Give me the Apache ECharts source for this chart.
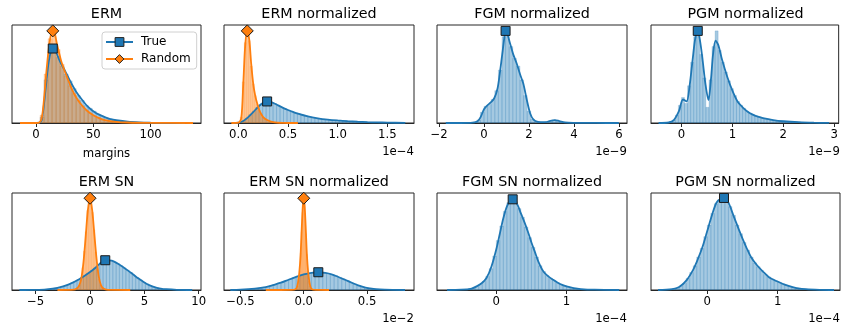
<!DOCTYPE html>
<html><head><meta charset="utf-8">
<script src="https://cdn.jsdelivr.net/npm/echarts@6/dist/echarts.min.js"></script>
<style>html,body{margin:0;padding:0;background:#fff}#c{width:841px;height:331px}</style>
</head><body><div id="c"></div>
<script>
// ---------- DATA ----------
const panelTitles = ['ERM','ERM normalized','FGM normalized','PGM normalized','ERM SN','ERM SN normalized','FGM SN normalized','PGM SN normalized'];
const exponentLabels = ['', '1e\u22124', '1e\u22129', '1e\u22129', '', '1e\u22122', '1e\u22124', '1e\u22124'];
const xAxisName = ['margins','','','','','','',''];
const tickValues = [[0,50,100],[0,0.5,1,1.5],[-2,0,2,4,6],[0,1,2,3],[-5,0,5,10],[-0.5,0,0.5],[0,1],[0,1]];
const tickLabels = [['0','50','100'],['0.0','0.5','1.0','1.5'],['\u22122','0','2','4','6'],['0','1','2','3'],['\u22125','0','5','10'],['\u22120.5','0.0','0.5'],['0','1'],['0','1']];
const xRanges = [[-21,144],[-0.144,1.768],[-2.09,6.36],[-0.598,3.086],[-7.18,10.21],[-0.63,0.871],[-0.844,1.86],[-0.8,1.885]];
const legendNames = ['True','Random'];

// Panel 1: ERM
const ermTrueKde = [[-5,0],[0,0.1],[3,0.3],[5,3],[7,20],[9,42],[11,62],[13,73],[15,76],[17,74],[19,68],[22,60],[25,54],[28,47],[31,40],[35,32],[40,24],[45,17],[50,12],[55,8.5],[60,6],[65,4],[70,2.8],[80,1.3],[90,0.6],[100,0.3],[115,0.1],[130,0]];
const ermTrueBins = [0, 3.5];
const ermTrueHist = [0.3,6,44,74,78,67,58,50,43,35,28,23,18,15,12,9,7,5.5,4.2,3.2,2.5,2,1.4,1.2,0.8,0.7,0.5,0.4,0.3];
const ermTrueMark = [14.6, 76];
const ermRandKde = [[-14,0],[0,0],[3,0.5],[5,5],[7,25],[9,52],[11,75],[13,90],[14.6,94],[16.5,90],[18,82],[20,72],[22,63],[25,53],[28,44],[31,35],[35,26],[40,18],[45,12],[50,8],[55,5],[60,3],[70,1.2],[80,0.5],[100,0.1],[137,0]];
const ermRandBins = [0, 3.5];
const ermRandHist = [0.3,8,50,86,93,75,60,48,38,30,23,17,13,10,7,5.5,4,2.8,2,1.4,1,0.7,0.5,0.3];
const ermRandMark = [14.6, 94];

// Panel 2: ERM normalized (x in 1e-4)
const ermNTrueKde = [[-0.05,0],[0,0.3],[0.05,2],[0.1,6],[0.15,11],[0.2,16.5],[0.25,20.5],[0.3,22],[0.35,20.5],[0.4,18],[0.45,15.5],[0.5,13.3],[0.55,11.3],[0.6,9.5],[0.7,6.7],[0.8,4.8],[0.9,3.5],[1.0,2.6],[1.1,1.9],[1.2,1.3],[1.3,0.9],[1.4,0.6],[1.5,0.4],[1.68,0.1]];
const ermNTrueBins = [0, 0.035];
const ermNTrueHist = [0.5,2.2,5,8.5,12,16,19,21,22,21,19.8,18,16,14.5,13,11.5,10.3,9.2,8.2,7.2,6.4,5.7,5,4.5,4,3.6,3.2,2.9,2.6,2.3,2.1,1.9,1.6,1.45,1.3,1.1,1,0.85,0.75,0.65,0.58,0.5,0.42,0.36,0.3,0.25,0.2,0.15];
const ermNTrueMark = [0.29, 22];
const ermNRandKde = [[-0.07,0],[0,0.3],[0.03,5],[0.05,40],[0.07,80],[0.09,94],[0.11,85],[0.13,60],[0.15,40],[0.17,28],[0.19,20],[0.22,11],[0.25,6],[0.29,3],[0.35,1],[0.45,0.2],[0.6,0]];
const ermNRandBins = [0, 0.02];
const ermNRandHist = [0.5,6,42,82,96,84,58,40,28,19,13,9,6,4.5,3,2.2,1.5,1,0.7,0.5];
const ermNRandMark = [0.09, 94];

// Panel 3: FGM normalized (x in 1e-9)
const fgmNKde = [[-1.7,0],[-0.6,0.2],[-0.3,1.5],[-0.15,6],[0,14],[0.15,18],[0.3,21],[0.45,25],[0.6,35],[0.7,50],[0.8,68],[0.9,86],[0.96,94],[1.05,90],[1.15,82],[1.3,70],[1.45,61],[1.6,50],[1.75,40],[1.9,24],[2.05,10],[2.2,3.5],[2.4,1.2],[2.7,0.8],[3.0,2.5],[3.15,3],[3.35,2],[3.6,0.6],[4,0.2],[5,0.05],[6,0]];
const fgmNBins = [-0.48, 0.16];
const fgmNHist = [0.8,3,11,17,19,24,33,54,88,93,78,66,58,44,28,12,4,1.5,0.8,0.6,1.2,2.4,3.2,2.2,1,0.5];
const fgmNMark = [0.96, 94];

// Panel 4: PGM normalized (x in 1e-9)
const pgmNKde = [[-0.45,0],[-0.25,0.5],[-0.15,3],[-0.05,12],[0.03,24],[0.1,22],[0.16,38],[0.22,65],[0.27,86],[0.32,94],[0.37,82],[0.42,62],[0.47,40],[0.53,23.5],[0.58,45],[0.62,70],[0.67,84],[0.72,80],[0.8,64],[0.9,47],[1.0,33],[1.1,22],[1.2,16],[1.3,11.5],[1.4,8.5],[1.5,6.5],[1.6,5],[1.8,3],[2.0,1.8],[2.3,0.8],[2.6,0.3],[2.9,0.1]];
const pgmNBins = [-0.24, 0.06];
const pgmNHist = [1.5,3,8,18,26,20,38,62,88,94,70,46,16,44,78,94,74,62,52,43,35,28,22,18,15,12,10,8.3,7,6,5.1,4.5,4,3.3,2.8,2.4,2,1.8,1.5,1.3,1.1,0.9,0.75,0.6,0.5,0.4,0.3,0.25,0.2,0.15];
const pgmNMark = [0.32, 94];

// Panel 5: ERM SN
const ermSnTrueKde = [[-6.5,0],[-5,0.2],[-4,0.7],[-3,2.2],[-2,5.5],[-1,11],[0,18.5],[0.5,23],[1,28],[1.4,30.7],[2,30.2],[2.5,27.5],[3,24],[3.5,20],[4,15.7],[4.5,11.5],[5,7.8],[5.5,4.8],[6,2.8],[6.5,1.5],[7,0.8],[8,0.2],[9.4,0]];
const ermSnTrueBins = [-4.5, 0.3];
const ermSnTrueHist = [0.5,0.7,1.0,1.4,1.9,2.6,3.3,4.3,5.7,7.1,8.8,10.7,12.8,15,17.3,20,22.6,25.5,28.2,30.3,30.8,30.2,29,27.2,25,22.8,20.4,18,15.3,12.8,10.4,8.2,6.3,4.6,3.4,2.4,1.6,1.1,0.8,0.6,0.4,0.25,0.15,0.1];
const ermSnTrueMark = [1.4, 30.7];
const ermSnRandKde = [[-3,0],[-1.5,0.3],[-1.2,1.8],[-1.0,4.5],[-0.8,12],[-0.6,29],[-0.4,55],[-0.2,82],[0,94.6],[0.2,82],[0.4,57],[0.6,32],[0.8,14],[1.0,5],[1.2,1.8],[1.5,0.4],[2.0,0.1],[3.7,0]];
const ermSnRandBins = [-1.2, 0.15];
const ermSnRandHist = [2,5,11,23,40,60,82,95,92,80,62,39,22,11,5,2];
const ermSnRandMark = [0, 94.6];

// Panel 6: ERM SN normalized (x in 1e-2)
const ermSnNTrueKde = [[-0.58,0],[-0.5,0.3],[-0.385,1.4],[-0.3,3],[-0.25,4.8],[-0.18,7.5],[-0.12,10.6],[-0.06,13.5],[0,16],[0.06,17.7],[0.115,18.3],[0.17,17.6],[0.22,16.2],[0.27,13.7],[0.326,10.6],[0.38,7.5],[0.43,4.8],[0.48,2.8],[0.537,1.4],[0.6,0.6],[0.7,0.15],[0.8,0]];
const ermSnNTrueBins = [-0.45, 0.03];
const ermSnNTrueHist = [0.8,1.2,1.6,2.1,2.7,3.4,4.5,5.5,6.8,8,9.8,11.3,12.8,14.2,15.4,16.6,17.4,18,18.3,18.1,17.7,17,16,14.6,13,11.2,9.6,7.8,6.2,4.6,3.4,2.5,1.7,1.2,0.8,0.5,0.35,0.2,0.15,0.1];
const ermSnNTrueMark = [0.115, 18.3];
const ermSnNRandKde = [[-0.3,0],[-0.1,0.1],[-0.07,0.5],[-0.055,2.5],[-0.045,8],[-0.035,18],[-0.025,36],[-0.015,66],[-0.007,87],[0,94.6],[0.007,87],[0.015,66],[0.025,36],[0.035,18],[0.045,8],[0.055,2.5],[0.07,0.5],[0.1,0.1],[0.2,0]];
const ermSnNRandBins = [-0.07, 0.007];
const ermSnNRandHist = [0.1,0.4,1.5,4,10,20,38,60,80,94,92,79,58,37,20,9,4,1.4,0.4,0.1];
const ermSnNRandMark = [0, 94.6];

// Panel 7: FGM SN normalized (x in 1e-4)
const fgmSnNKde = [[-0.7,0],[-0.5,0.3],[-0.35,1.5],[-0.28,3.7],[-0.2,7.5],[-0.14,12.3],[-0.07,24],[0,42],[0.05,58],[0.1,74],[0.15,86],[0.2,92.5],[0.24,93.5],[0.3,88],[0.35,79],[0.4,70],[0.45,60],[0.5,49],[0.55,39],[0.6,29],[0.67,19],[0.74,14],[0.81,10.5],[0.9,6.5],[1.0,3.7],[1.1,2],[1.2,1],[1.4,0.3],[1.75,0]];
const fgmSnNBins = [-0.5, 0.05];
const fgmSnNHist = [0.4,0.7,1.2,2.2,3.8,6,9,14,22,35,51,66,81,90,94,91,84,75,65,54,44,34,25,19,15,12,10,7.5,5.8,4.3,3.2,2.4,1.7,1.2,0.9,0.7,0.5,0.35,0.25,0.15];
const fgmSnNMark = [0.233, 93.5];

// Panel 8: PGM SN normalized (x in 1e-4)
const pgmSnNKde = [[-0.7,0],[-0.5,0.8],[-0.4,3],[-0.29,10.5],[-0.2,21],[-0.15,29],[-0.07,44],[0,61],[0.07,78],[0.13,90],[0.2,94.5],[0.24,94.9],[0.3,90],[0.37,77],[0.45,62],[0.5,53],[0.56,43],[0.62,34],[0.7,26],[0.79,19],[0.88,13],[0.99,9],[1.1,5.5],[1.2,3.2],[1.27,2],[1.4,0.8],[1.6,0.2],[1.8,0]];
const pgmSnNBins = [-0.5, 0.05];
const pgmSnNHist = [1.2,2.3,4,7,12,18,25,34,43,55,67,79,89,93,95,92,86,77,67,58,49,41,34,28,24,20,16,13.5,11,9.3,7.8,6.2,5,3.8,2.8,2,1.5,1,0.7,0.5,0.35,0.2];
const pgmSnNMark = [0.237, 94.9];

// ---------- STRUCTURE ----------
const panels = [
  {t:{kde:ermTrueKde,bins:ermTrueBins,hist:ermTrueHist,mark:ermTrueMark}, r:{kde:ermRandKde,bins:ermRandBins,hist:ermRandHist,mark:ermRandMark}},
  {t:{kde:ermNTrueKde,bins:ermNTrueBins,hist:ermNTrueHist,mark:ermNTrueMark}, r:{kde:ermNRandKde,bins:ermNRandBins,hist:ermNRandHist,mark:ermNRandMark}},
  {t:{kde:fgmNKde,bins:fgmNBins,hist:fgmNHist,mark:fgmNMark}, r:null},
  {t:{kde:pgmNKde,bins:pgmNBins,hist:pgmNHist,mark:pgmNMark}, r:null},
  {t:{kde:ermSnTrueKde,bins:ermSnTrueBins,hist:ermSnTrueHist,mark:ermSnTrueMark}, r:{kde:ermSnRandKde,bins:ermSnRandBins,hist:ermSnRandHist,mark:ermSnRandMark}},
  {t:{kde:ermSnNTrueKde,bins:ermSnNTrueBins,hist:ermSnNTrueHist,mark:ermSnNTrueMark}, r:{kde:ermSnNRandKde,bins:ermSnNRandBins,hist:ermSnNRandHist,mark:ermSnNRandMark}},
  {t:{kde:fgmSnNKde,bins:fgmSnNBins,hist:fgmSnNHist,mark:fgmSnNMark}, r:null},
  {t:{kde:pgmSnNKde,bins:pgmSnNBins,hist:pgmSnNHist,mark:pgmSnNMark}, r:null}
];

const layout = [
  {left:12,top:25,width:189,height:98},{left:224,top:25,width:190,height:98},{left:437,top:25,width:190,height:98},{left:651,top:25,width:189,height:98},
  {left:12,top:193,width:189,height:97},{left:224,top:193,width:190,height:97},{left:437,top:193,width:190,height:97},{left:651,top:193,width:189,height:97}
];

const BLUE = '#1f77b4', ORANGE = '#ff7f0e';
const styles = {
  t:{color:BLUE, fill:'rgba(31,119,180,0.4)', edge:'rgba(31,119,180,0.3)', symbol:'rect', size:9, name:'True'},
  r:{color:ORANGE, fill:'rgba(255,127,14,0.4)', edge:'rgba(255,127,14,0.3)', symbol:'diamond', size:12, name:'Random'}
};
const FONT = 'DejaVu Sans';
const AX = '#262626';

const grids=[], xAxes=[], yAxes=[], series=[], graphics=[];
panels.forEach((p, i) => {
  const L = layout[i];
  grids.push({left:L.left, top:L.top, width:L.width, height:L.height, show:true, borderColor:AX, borderWidth:1, backgroundColor:'transparent'});
  xAxes.push({gridIndex:i, type:'value', min:xRanges[i][0], max:xRanges[i][1],
    axisLine:{show:true, onZero:false, lineStyle:{color:AX, width:1}},
    axisTick:{show:true, inside:false, length:4, customValues:tickValues[i], lineStyle:{color:AX, width:1}},
    axisLabel:{show:true, customValues:tickValues[i], margin:6, fontSize:11.7, fontFamily:FONT, color:'#000',
      formatter:(v)=>{const k=tickValues[i].findIndex(t=>Math.abs(t-v)<1e-9); return k>=0?tickLabels[i][k]:'';}},
    splitLine:{show:false}});
  yAxes.push({gridIndex:i, type:'value', min:0, max:100, show:false, splitLine:{show:false}});
  const mk = [];
  ['t','r'].forEach(key => {
    const d = p[key]; if(!d) return;
    const st = styles[key];
    const data = d.hist.map((h,k)=>[d.bins[0]+k*d.bins[1], d.bins[0]+(k+1)*d.bins[1], h]);
    series.push({type:'custom', xAxisIndex:i, yAxisIndex:i, data, silent:true, animation:false, clip:true,
      encode:{x:[0,1], y:2},
      renderItem:(params, api)=>{
        const p0 = api.coord([api.value(0), 0]);
        const p1 = api.coord([api.value(1), api.value(2)]);
        return {type:'rect', shape:{x:p0[0], y:p1[1], width:p1[0]-p0[0], height:p0[1]-p1[1]},
          style:{fill:st.fill, stroke:st.edge, lineWidth:0.6}};
      }});
    series.push({type:'line', name:st.name, xAxisIndex:i, yAxisIndex:i, data:d.kde, showSymbol:false, symbol:st.symbol, symbolSize:st.size,
      smooth:0.3, silent:true, animation:false, lineStyle:{color:st.color, width:1.8},
      itemStyle:{color:st.color, borderColor:'#222', borderWidth:1}});
    mk.push({type:'scatter', xAxisIndex:i, yAxisIndex:i, data:[d.mark], symbol:st.symbol, symbolSize:st.size, silent:true, animation:false, z:5,
      itemStyle:{color:st.color, borderColor:'#1a1a1a', borderWidth:1, opacity:1}});
  });
  mk.forEach(s=>series.push(s));
  const cx = L.left + L.width/2;
  graphics.push({type:'text', x:cx, y:L.top-11, style:{text:panelTitles[i], font:'14.3px "DejaVu Sans"', fill:'#000', textAlign:'center', textVerticalAlign:'middle'}});
  if (exponentLabels[i]) graphics.push({type:'text', x:L.left+L.width, y:L.top+L.height+28.5, style:{text:exponentLabels[i], font:'11.7px "DejaVu Sans"', fill:'#000', textAlign:'right', textVerticalAlign:'middle'}});
  if (xAxisName[i]) graphics.push({type:'text', x:cx, y:L.top+L.height+31, style:{text:xAxisName[i], font:'11.7px "DejaVu Sans"', fill:'#000', textAlign:'center', textVerticalAlign:'middle'}});
});

const chart = echarts.init(document.getElementById('c'), null, {renderer:'canvas'});
chart.setOption({
  backgroundColor:'#fff',
  animation:false,
  grid:grids, xAxis:xAxes, yAxis:yAxes, series:series,
  legend:{data:legendNames, orient:'vertical', left:102, top:32, padding:[3,6,3,3], itemGap:3, itemWidth:27, itemHeight:11,
    backgroundColor:'rgba(255,255,255,0.85)', borderColor:'#d0d0d0', borderWidth:1, borderRadius:3,
    textStyle:{fontSize:12, fontFamily:FONT, color:'#000', padding:[0,0,0,3], lineHeight:14},
    itemStyle:{borderColor:'#222', borderWidth:1}, selectedMode:false},
  graphic:graphics
});
</script></body></html>
